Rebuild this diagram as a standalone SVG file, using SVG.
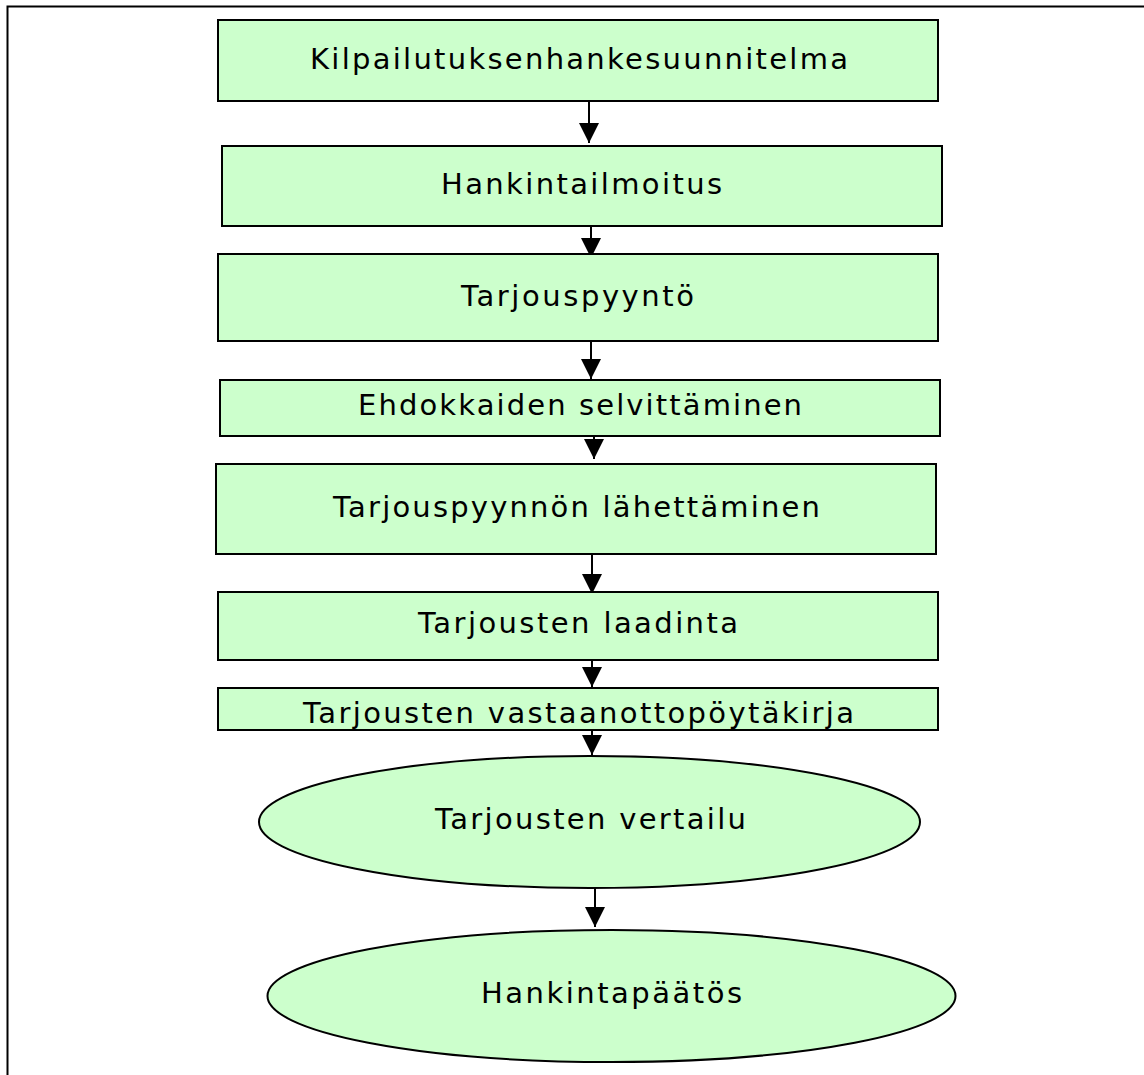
<svg xmlns="http://www.w3.org/2000/svg" width="1144" height="1075" viewBox="0 0 1144 1075">
<style>
.n{fill:#CCFFCC;stroke:#000;stroke-width:2}
.t{font-family:"DejaVu Sans",Verdana,sans-serif;font-size:29px;fill:#000}
.c{stroke:#000;stroke-width:2;fill:none}
.f{stroke:#000;stroke-width:2;fill:none}
</style>
<defs>
<marker id="ah" markerUnits="userSpaceOnUse" markerWidth="20" markerHeight="20" refX="20" refY="10" orient="auto" viewBox="0 0 20 20">
<path d="M0,0 L20,10 L0,20 z" fill="#000"/>
</marker>
</defs>
<rect width="1144" height="1075" fill="#fff"/>
<path class="f" d="M7.5,1075 V6.5 H1144"/>
<g id="connectors">
<line class="c" x1="589" y1="101" x2="589" y2="143" marker-end="url(#ah)"/>
<line class="c" x1="591" y1="226" x2="591" y2="258" marker-end="url(#ah)"/>
<line class="c" x1="591" y1="341" x2="591" y2="379" marker-end="url(#ah)"/>
<line class="c" x1="594" y1="436" x2="594" y2="459" marker-end="url(#ah)"/>
<line class="c" x1="592" y1="554" x2="592" y2="594" marker-end="url(#ah)"/>
<line class="c" x1="592" y1="660" x2="592" y2="687" marker-end="url(#ah)"/>
<line class="c" x1="592" y1="730" x2="592" y2="755" marker-end="url(#ah)"/>
<line class="c" x1="595" y1="888" x2="595" y2="927" marker-end="url(#ah)"/>
</g>
<g id="n1"><rect class="n" x="218" y="20" width="720" height="81"/><text class="t" x="310" y="69" textLength="538" lengthAdjust="spacing">Kilpailutuksenhankesuunnitelma</text></g>
<g id="n2"><rect class="n" x="222" y="146" width="720" height="80"/><text class="t" x="441" y="194" textLength="281" lengthAdjust="spacing">Hankintailmoitus</text></g>
<g id="n3"><rect class="n" x="218" y="254" width="720" height="87"/><text class="t" x="461" y="306" textLength="233" lengthAdjust="spacing">Tarjouspyyntö</text></g>
<g id="n4"><rect class="n" x="220" y="380" width="720" height="56"/><text class="t" x="358" y="415" textLength="444" lengthAdjust="spacing">Ehdokkaiden selvittäminen</text></g>
<g id="n5"><rect class="n" x="216" y="464" width="720" height="90"/><text class="t" x="333" y="517" textLength="487" lengthAdjust="spacing">Tarjouspyynnön lähettäminen</text></g>
<g id="n6"><rect class="n" x="218" y="592" width="720" height="68"/><text class="t" x="418" y="633" textLength="320" lengthAdjust="spacing">Tarjousten laadinta</text></g>
<g id="n7"><rect class="n" x="218" y="688" width="720" height="42"/><text class="t" x="303" y="723" textLength="551" lengthAdjust="spacing">Tarjousten vastaanottopöytäkirja</text></g>
<g id="n8"><ellipse class="n" cx="589.5" cy="822" rx="330.5" ry="66"/><text class="t" x="435" y="829" textLength="311" lengthAdjust="spacing">Tarjousten vertailu</text></g>
<g id="n9"><ellipse class="n" cx="611.5" cy="996" rx="344" ry="66"/><text class="t" x="481" y="1003" textLength="261" lengthAdjust="spacing">Hankintapäätös</text></g>
</svg>
